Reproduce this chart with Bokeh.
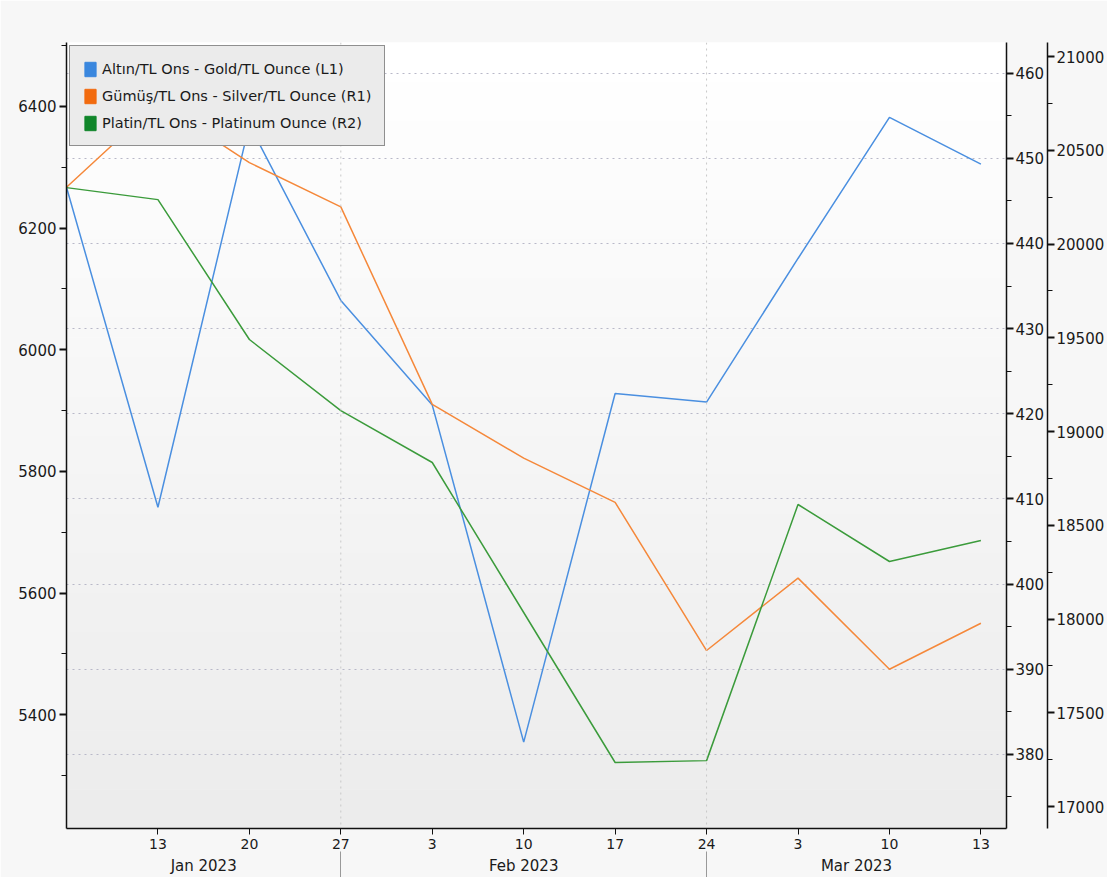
from bokeh.plotting import figure
from bokeh.models import (Range1d, LinearAxis, FixedTicker, Grid, Span, BoxAnnotation,
                          Legend, LegendItem)
from bokeh.embed import file_html
from bokeh.resources import INLINE

# ---- data (weekly observations) ----
obs = list(range(11))
day_labels = ["6", "13", "20", "27", "3", "10", "17", "24", "3", "10", "13"]
month_labels = ["Jan 2023", "Feb 2023", "Mar 2023"]
month_centers = [1.5, 5.0, 8.64]
month_breaks = [3, 7]

gold = [6267, 5741, 6370, 6081, 5909, 5355, 5928, 5914, 6150, 6382, 6305]          # L1
silver = [446.6, 456.5, 449.5, 444.3, 421.1, 414.8, 409.6, 392.2, 400.7, 390.0, 395.4]  # R1
platinum = [20301, 20237, 19491, 19112, 18835, 18035, 17235, 17245, 18611, 18307, 18419]  # R2

names = ["Altın/TL Ons - Gold/TL Ounce (L1)",
         "Gümüş/TL Ons - Silver/TL Ounce (R1)",
         "Platin/TL Ons - Platinum Ounce (R2)"]

FONT = "DejaVu Sans"
TXT = "#1a1a1a"

L_RANGE = (5213, 6505)
R1_RANGE = (371.3, 463.6)
R2_RANGE = (16883, 21075)

p = figure(frame_width=940, frame_height=786,
           x_range=Range1d(0, 10.28), y_range=Range1d(*L_RANGE),
           output_backend="svg", toolbar_location=None,
           min_border_left=66, min_border_top=42, min_border_right=2, min_border_bottom=4,
           background_fill_color="#ffffff", border_fill_color="#f7f7f7")
p.outline_line_color = None
p.extra_y_ranges = {"r1": Range1d(*R1_RANGE), "r2": Range1d(*R2_RANGE)}

# gradient background in the frame
nb = 40
span = L_RANGE[1] - L_RANGE[0]
for i in range(nb):
    t = i / (nb - 1)
    c = int(round(255 - t * (255 - 236)))
    col = "#%02x%02x%02x" % (c, c, c)
    top = L_RANGE[1] - span * i / nb
    bot = L_RANGE[1] - span * (i + 1) / nb
    p.add_layout(BoxAnnotation(top=top, bottom=bot - 1, fill_color=col, fill_alpha=1,
                               line_alpha=0, level="image"))

p.xgrid.visible = False
p.ygrid.visible = False

# horizontal dotted gridlines tied to R1
r1_ticks = list(range(380, 461, 10))
g = Grid(dimension=1, y_range_name="r1", ticker=FixedTicker(ticks=r1_ticks),
         grid_line_color="#b8b8c8", grid_line_dash="dotted", grid_line_width=1)
p.add_layout(g, "center")

for b in month_breaks:
    p.add_layout(Span(location=b, dimension="height", line_color="#c8c8c8",
                      line_dash="dotted", line_width=1))

# ---- axes ----
def style_axis(ax, size="15px"):
    ax.axis_line_color = "#111111"
    ax.axis_line_width = 1.5
    ax.major_tick_line_color = "#111111"
    ax.major_tick_line_width = 2
    ax.minor_tick_line_color = "#111111"
    ax.major_label_text_font = FONT
    ax.major_label_text_font_size = size
    ax.major_label_text_color = TXT

ly = p.yaxis[0]
ly.ticker = FixedTicker(ticks=list(range(5400, 6401, 200)),
                        minor_ticks=list(range(5300, 6501, 100)))
style_axis(ly)
ly.major_tick_out = 7
ly.major_tick_in = 0
ly.minor_tick_out = 5
ly.minor_tick_in = 0
ly.major_label_standoff = 3

ax1 = LinearAxis(y_range_name="r1",
                 ticker=FixedTicker(ticks=r1_ticks, minor_ticks=list(range(375, 461, 5))))
style_axis(ax1)
ax1.major_tick_out = 7
ax1.major_tick_in = 0
ax1.minor_tick_out = 5
ax1.minor_tick_in = 0
ax1.major_label_standoff = 2
p.add_layout(ax1, "right")

ax2 = LinearAxis(y_range_name="r2",
                 ticker=FixedTicker(ticks=list(range(17000, 21001, 500)),
                                    minor_ticks=list(range(17000, 21001, 250))))
style_axis(ax2)
ax2.major_tick_out = 7
ax2.major_tick_in = 0
ax2.minor_tick_out = 5
ax2.minor_tick_in = 0
ax2.major_label_standoff = 2
p.add_layout(ax2, "right")

bx = p.xaxis[0]
bx.ticker = FixedTicker(ticks=obs[1:], minor_ticks=[])
bx.major_label_overrides = {i: day_labels[i] for i in obs}
style_axis(bx, "14px")
bx.major_tick_out = 6
bx.major_tick_in = 0
bx.major_tick_line_width = 1
bx.major_label_standoff = 4

mx = LinearAxis(ticker=FixedTicker(ticks=month_centers, minor_ticks=month_breaks))
mx.major_label_overrides = {c: m for c, m in zip(month_centers, month_labels)}
style_axis(mx, "15px")
mx.axis_line_color = None
mx.major_tick_out = 0
mx.major_tick_in = 0
mx.minor_tick_out = 26
mx.minor_tick_in = 0
mx.minor_tick_line_color = "#999999"
mx.major_label_standoff = -21
p.add_layout(mx, "below")

# ---- series ----
cols_line = ["#4a8fe0", "#f5883a", "#3b9b3b"]
cols_swatch = ["#3a87de", "#f26b0f", "#10862a"]

p.line(obs, gold, line_color=cols_line[0], line_width=1.5)
p.line(obs, silver, line_color=cols_line[1], line_width=1.5, y_range_name="r1")
p.line(obs, platinum, line_color=cols_line[2], line_width=1.5, y_range_name="r2")

nan = float("nan")
items = []
for n, c in zip(names, cols_swatch):
    r = p.quad(left=[nan], right=[nan], top=[nan], bottom=[nan], fill_color=c, line_color=c)
    items.append(LegendItem(label=n, renderers=[r]))

leg = Legend(items=items, location="top_left", margin=3,
             background_fill_color="#ebebeb", background_fill_alpha=1,
             border_line_color="#333333", border_line_width=1.5,
             label_text_font=FONT, label_text_font_size="14.5px", label_text_color=TXT,
             glyph_width=14, glyph_height=18, label_height=19,
             spacing=8, padding=13, label_standoff=5)
p.add_layout(leg)

open("out.html", "w").write(file_html(p, INLINE))
